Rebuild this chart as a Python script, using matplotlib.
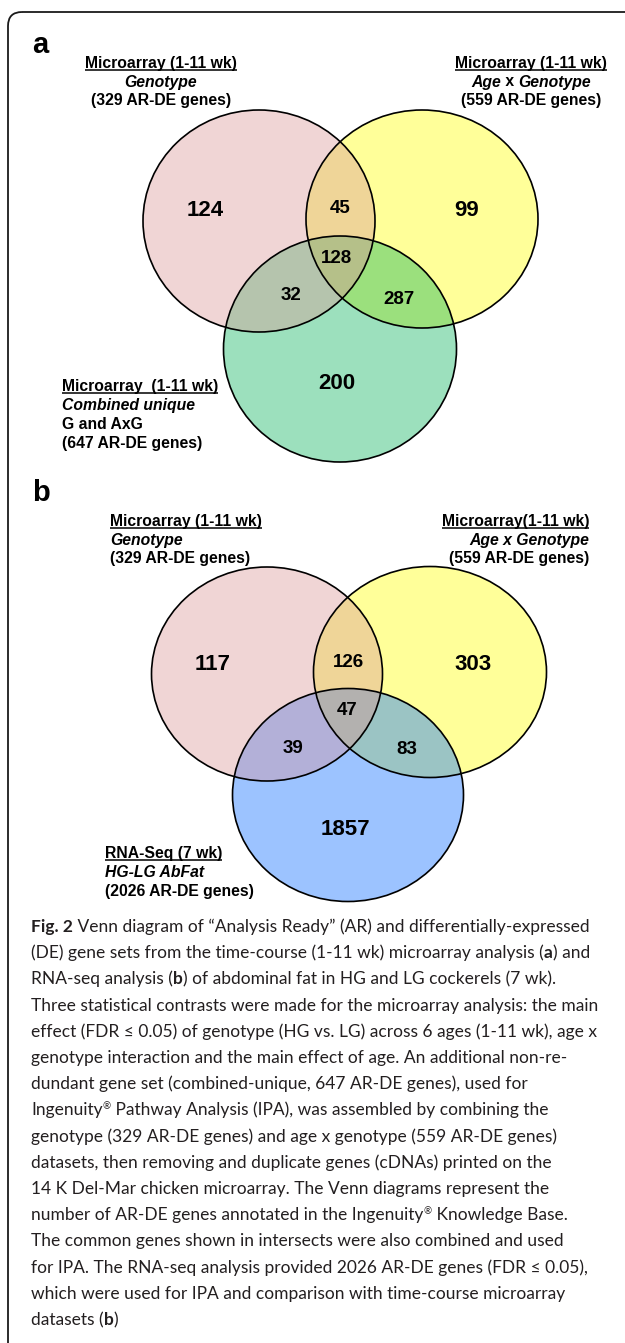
import numpy as np
import matplotlib.pyplot as plt
from matplotlib.colors import to_rgba
from matplotlib.patches import Ellipse, FancyBboxPatch

# ---- data ----
# region order: A only, B only, C only, A&B, A&C, B&C, A&B&C
a_counts = [124, 99, 200, 45, 32, 287, 128]
b_counts = [117, 303, 1857, 126, 39, 83, 47]

a_colors = ['#F0D5D5', '#FFFF99', '#9CE0BD', '#EFD598', '#B5C4AD', '#9BE07D', '#B5C089']
b_colors = ['#F0D5D5', '#FFFF99', '#9CC3FF', '#EFD598', '#B3B0D8', '#9BC4C4', '#B3B1AF']

a_left = ['**_Microarray (1-11 wk)', '*Genotype', '(329 AR-DE genes)']
a_right = ['**_Microarray (1-11 wk)', '*Age| x |*Genotype', '(559 AR-DE genes)']
a_bottom = ['**_Microarray  (1-11 wk)', '*Combined unique', 'G and AxG', '(647 AR-DE genes)']
b_left = ['**_Microarray (1-11 wk)', '*Genotype', '(329 AR-DE genes)']
b_right = ['**_Microarray(1-11 wk)', '*Age x Genotype', '(559 AR-DE genes)']
b_bottom = ['**_RNA-Seq (7 wk)', '*HG-LG AbFat', '(2026 AR-DE genes)']

caption = [
    "**Fig. 2** Venn diagram of \u201cAnalysis Ready\u201d (AR) and differentially-expressed",
    "(DE) gene sets from the time-course (1-11 wk) microarray analysis (**a**) and",
    "RNA-seq analysis (**b**) of abdominal fat in HG and LG cockerels (7 wk).",
    "Three statistical contrasts were made for the microarray analysis: the main",
    "effect (FDR \u2264 0.05) of genotype (HG vs. LG) across 6 ages (1-11 wk), age x",
    "genotype interaction and the main effect of age. An additional non-re-",
    "dundant gene set (combined-unique, 647 AR-DE genes), used for",
    "Ingenuity\u00ae Pathway Analysis (IPA), was assembled by combining the",
    "genotype (329 AR-DE genes) and age x genotype (559 AR-DE genes)",
    "datasets, then removing and duplicate genes (cDNAs) printed on the",
    "14 K Del-Mar chicken microarray. The Venn diagrams represent the",
    "number of AR-DE genes annotated in the Ingenuity\u00ae Knowledge Base.",
    "The common genes shown in intersects were also combined and used",
    "for IPA. The RNA-seq analysis provided 2026 AR-DE genes (FDR \u2264 0.05),",
    "which were used for IPA and comparison with time-course microarray",
    "datasets (**b**)",
]

# ---- layout ----
W, H = 625, 1343
LBL = 'Liberation Sans'
CAP = ['Lato', 'DejaVu Sans']

fig = plt.figure(figsize=(W / 100, H / 100), dpi=100)
ax = fig.add_axes([0, 0, 1, 1])
ax.axis('off')
renderer = fig.canvas.get_renderer()


def measure(s, kw):
    t = ax.text(0, 0, s, **kw)
    w = t.get_window_extent(renderer).width
    t.remove()
    return w


def text_width(s, kw):
    return measure('.' + s + '.', kw) - measure('..', kw)


def rich(x, y, parts, ha='left', underline=False, **base):
    items = []
    for s, kw in parts:
        k = {**base, **kw}
        rise = k.pop('rise', 0)
        items.append((s, k, rise, text_width(s, k)))
    total = sum(it[3] for it in items)
    if ha == 'center':
        x -= total / 2
    elif ha == 'right':
        x -= total
    cx = x
    for s, k, rise, w in items:
        ax.text(cx, y + rise, s, ha='left', va='baseline', **k)
        cx += w
    if underline:
        ax.plot([x, x + total], [y + 2.2, y + 2.2], color='black', lw=1.1, solid_capstyle='butt')


def label_block(x, y0, lines, ha, step, size=11.3):
    for i, line in enumerate(lines):
        ul = line.startswith('**_')
        if ul:
            line = line[3:]
        parts = []
        for seg in line.split('|'):
            if seg.startswith('*'):
                parts.append((seg[1:], dict(style='italic')))
            else:
                parts.append((seg, {}))
        rich(x, y0 + i * step, parts, ha=ha, underline=ul,
             family=LBL, fontweight='bold', fontsize=size)


def venn(ells, colors, counts, spots, box):
    x0, x1, y0, y1 = box
    xs = np.arange(x0, x1, 0.5) + 0.25
    ys = np.arange(y0, y1, 0.5) + 0.25
    X, Y = np.meshgrid(xs, ys)
    code = np.zeros(X.shape, int)
    for bit, (cx, cy, w, h) in zip([1, 2, 4], ells):
        inside = ((X - cx) / (w / 2)) ** 2 + ((Y - cy) / (h / 2)) ** 2 <= 1
        code |= bit * inside
    img = np.zeros(X.shape + (4,))
    for c, col in zip([1, 2, 4, 3, 5, 6, 7], colors):
        img[code == c] = to_rgba(col)
    ax.imshow(img, extent=(x0, x1, y1, y0), origin='upper', interpolation='nearest',
              aspect='auto', zorder=1)
    for (cx, cy, w, h) in ells:
        ax.add_patch(Ellipse((cx, cy), w, h, fill=False, ec='black', lw=1.2, zorder=2))
    for i, (n, (px, py)) in enumerate(zip(counts, spots)):
        size = 16 if i < 3 else 13.5
        ax.text(px, py + 0.716 * size * 100 / 72 / 2, str(n), ha='center', va='baseline',
                family=LBL, fontweight='bold', fontsize=size, zorder=3)


# frame
ax.add_patch(FancyBboxPatch((8, 12), 700, 1400, boxstyle='round,pad=0,rounding_size=14',
                            fill=False, ec='#1a1a1a', lw=1.3))

# panel a
ax.text(32, 53, 'a', family=LBL, fontweight='bold', fontsize=21, va='baseline')
venn([(259, 221, 232, 222), (422, 219, 232, 218), (340, 349, 233, 226)],
     a_colors, a_counts,
     [(205, 208), (467, 208), (337, 381), (340, 206), (291, 293), (399, 297), (336, 256)],
     (130, 560, 100, 470))
label_block(161, 68, a_left, 'center', 18.5)
label_block(531, 68, a_right, 'center', 18.5)
label_block(62, 391, a_bottom, 'left', 19)

# panel b
ax.text(32, 501, 'b', family=LBL, fontweight='bold', fontsize=21, va='baseline')
venn([(267, 674, 231, 214), (430, 672, 233, 211), (348, 795, 231, 213)],
     b_colors, b_counts,
     [(213, 662), (473, 662), (345, 827), (348, 660), (293, 746), (407, 747), (347, 708)],
     (140, 560, 555, 910))
label_block(110, 526, b_left, 'left', 18.5)
label_block(589, 526, b_right, 'right', 18.5)
label_block(105, 858, b_bottom, 'left', 19)

# caption
for i, line in enumerate(caption):
    parts = []
    for j, seg in enumerate(line.split('**')):
        if not seg:
            continue
        kw = dict(fontweight='bold') if j % 2 else dict(fontweight='normal')
        pieces = seg.split('\u00ae')
        for k, p in enumerate(pieces):
            if p:
                parts.append((p, kw))
            if k < len(pieces) - 1:
                parts.append(('\u00ae', dict(fontsize=7, rise=-6, fontweight='normal')))
    rich(31, 932 + 26.2 * i, parts, family=CAP, fontsize=12.5, color='#231F20')

ax.set_xlim(0, W)
ax.set_ylim(H, 0)
fig.savefig('out.png', dpi=100)
